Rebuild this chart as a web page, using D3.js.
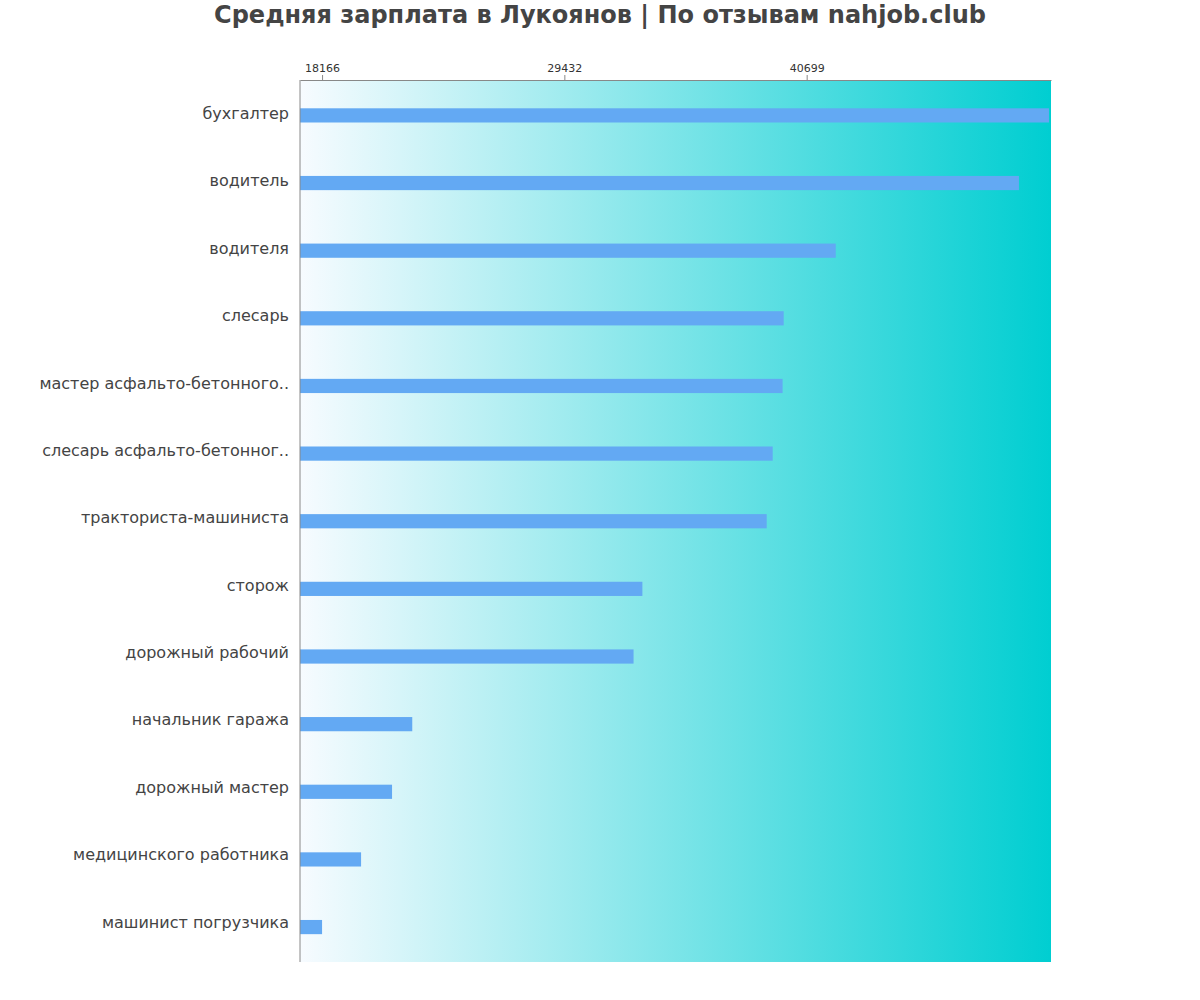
<!DOCTYPE html>
<html><head><meta charset="utf-8">
<script src="https://cdn.jsdelivr.net/npm/d3@7"></script>
<style>body{margin:0;background:#fff;} text{font-family:"DejaVu Sans";}</style>
</head><body><svg id="c" width="1200" height="1000"></svg>
<script>
const categories = ["бухгалтер","водитель","водителя","слесарь","мастер асфальто-бетонного..","слесарь асфальто-бетонног..","тракториста-машиниста","сторож","дорожный рабочий","начальник гаража","дорожный мастер","медицинского работника","машинист погрузчика"];
const values = [51966, 50570, 42050, 39630, 39580, 39120, 38840, 33060, 32650, 22360, 21420, 19980, 18166];
const tickValues = [18166, 29432, 40699];
const titleText = "Средняя зарплата в Лукоянов | По отзывам nahjob.club";

const svg = d3.select("#c");
const m = {l:300, r:1051, t:80, b:962};
const x = d3.scaleLinear().domain([17140, 52060]).range([m.l, m.r]);
const y = d3.scaleBand().domain(categories).range([m.t, m.t + 879.3]);
const yLab = d3.scaleBand().domain(categories).range([m.t, m.t + 876]);

const defs = svg.append("defs");
const g = defs.append("linearGradient").attr("id","bg").attr("x1","0%").attr("x2","100%").attr("y1","0%").attr("y2","0%");
g.append("stop").attr("offset","0%").attr("stop-color","#f7fbff");
g.append("stop").attr("offset","100%").attr("stop-color","#00ced1");

svg.append("rect").attr("x",m.l).attr("y",m.t).attr("width",m.r-m.l).attr("height",m.b-m.t).attr("fill","url(#bg)");

svg.append("text").attr("x",600).attr("y",23).attr("text-anchor","middle")
  .attr("font-family","DejaVu Sans")
  .attr("font-size",24).attr("font-weight","bold").attr("fill","#444").text(titleText);

svg.selectAll("rect.bar").data(values).enter().append("rect").attr("class","bar")
  .attr("x",x.range()[0]).attr("y",(d,i)=>y(categories[i])+28.3)
  .attr("width",d=>x(d)-m.l).attr("height",14.2).attr("fill","#63a9f3");

const ax = svg.append("g").attr("transform",`translate(0,${m.t})`)
  .call(d3.axisTop(x).tickValues(tickValues).tickFormat(d3.format("d")).tickSize(5).tickSizeOuter(0));
ax.attr("font-family","DejaVu Sans");
ax.select(".domain").attr("stroke","#888");
ax.selectAll(".tick line").attr("stroke","#888");
ax.selectAll(".tick text").attr("font-size",11).attr("fill","#333").attr("font-family","DejaVu Sans");

svg.append("line").attr("x1",m.l).attr("x2",m.l).attr("y1",m.t).attr("y2",m.b).attr("stroke","#888");

svg.selectAll("text.lab").data(categories).enter().append("text").attr("class","lab")
  .attr("font-family","DejaVu Sans")
  .attr("x",289).attr("y",d=>yLab(d)+39).attr("text-anchor","end")
  .attr("font-size",16).attr("fill","#444").text(d=>d);
</script></body></html>
